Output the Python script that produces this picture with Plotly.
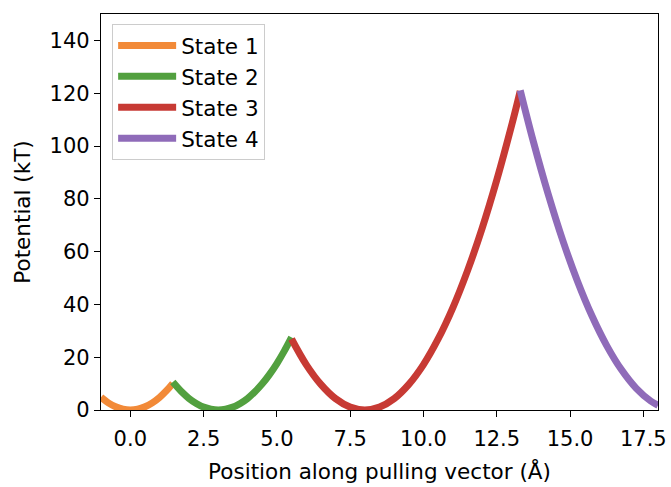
import plotly.graph_objects as go

# Values
state1_x = [-1.0, -0.75, -0.5, -0.25, 0.0, 0.25, 0.5, 0.75, 1.0, 1.25, 1.45]
state1_y = [4.8, 2.7, 1.2, 0.3, 0.0, 0.3, 1.2, 2.7, 4.8, 7.5, 10.1]

state2_x = [1.45, 1.75, 2.0, 2.25, 2.5, 2.75, 3.0, 3.25, 3.5, 3.75, 4.0, 4.25, 4.5, 4.75, 5.0, 5.25, 5.5]
state2_y = [10.6, 6.9, 4.4, 2.5, 1.1, 0.3, 0.0, 0.3, 1.1, 2.5, 4.4, 6.9, 9.9, 13.5, 17.6, 22.3, 27.5]

state3_x = [5.5, 6.0, 6.5, 7.0, 7.5, 8.0, 8.5, 9.0, 9.5, 10.0, 10.5, 11.0, 11.5, 12.0, 12.5, 13.0, 13.3]
state3_y = [26.9, 17.2, 9.7, 4.3, 1.1, 0.0, 1.1, 4.3, 9.7, 17.2, 26.9, 38.7, 52.7, 68.8, 87.1, 107.5, 120.8]

state4_x = [13.3, 13.75, 14.25, 14.75, 15.25, 15.75, 16.25, 16.75, 17.25, 17.75, 18.0]
state4_y = [121.1, 101.6, 81.9, 64.3, 48.9, 35.6, 24.4, 15.3, 8.3, 3.4, 1.8]

names = ["State 1", "State 2", "State 3", "State 4"]
colors = ["#f28a38", "#52a03f", "#c73a34", "#8f6bb9"]

x_ticks = [0.0, 2.5, 5.0, 7.5, 10.0, 12.5, 15.0, 17.5]
x_tick_labels = ["0.0", "2.5", "5.0", "7.5", "10.0", "12.5", "15.0", "17.5"]
y_ticks = [0, 20, 40, 60, 80, 100, 120, 140]

series = [(state1_x, state1_y), (state2_x, state2_y), (state3_x, state3_y), (state4_x, state4_y)]

fig = go.Figure()
for (xs, ys), name, color in zip(series, names, colors):
    fig.add_trace(go.Scatter(x=xs, y=ys, mode="lines", name=name,
                             line=dict(color=color, width=7, shape="spline")))

axis_common = dict(showline=True, linecolor="black", linewidth=1.2, mirror=True,
                   ticks="outside", ticklen=6, tickcolor="black", showgrid=False,
                   zeroline=False, automargin=False, tickfont=dict(size=21, color="black"))

fig.update_layout(
    width=671, height=487,
    margin=dict(l=101, r=13, t=14, b=77),
    paper_bgcolor="white", plot_bgcolor="white",
    font=dict(family="DejaVu Sans", color="black"),
    xaxis=dict(range=[-1.0, 18.0], tickvals=x_ticks, ticktext=x_tick_labels,
               ticklabelstandoff=4,
               title=dict(text="Position along pulling vector (Å)", font=dict(size=21.5), standoff=13),
               **axis_common),
    yaxis=dict(range=[0, 150], tickvals=y_ticks,
               title=dict(text="Potential (kT)", font=dict(size=21.5), standoff=13),
               **axis_common),
    legend=dict(x=0.02, y=0.975, xanchor="left", yanchor="top",
                bgcolor="rgba(255,255,255,0.8)", bordercolor="#cccccc", borderwidth=1,
                font=dict(size=21.5), itemwidth=58, tracegroupgap=2),
    showlegend=True,
)

fig.write_html("out.html")
